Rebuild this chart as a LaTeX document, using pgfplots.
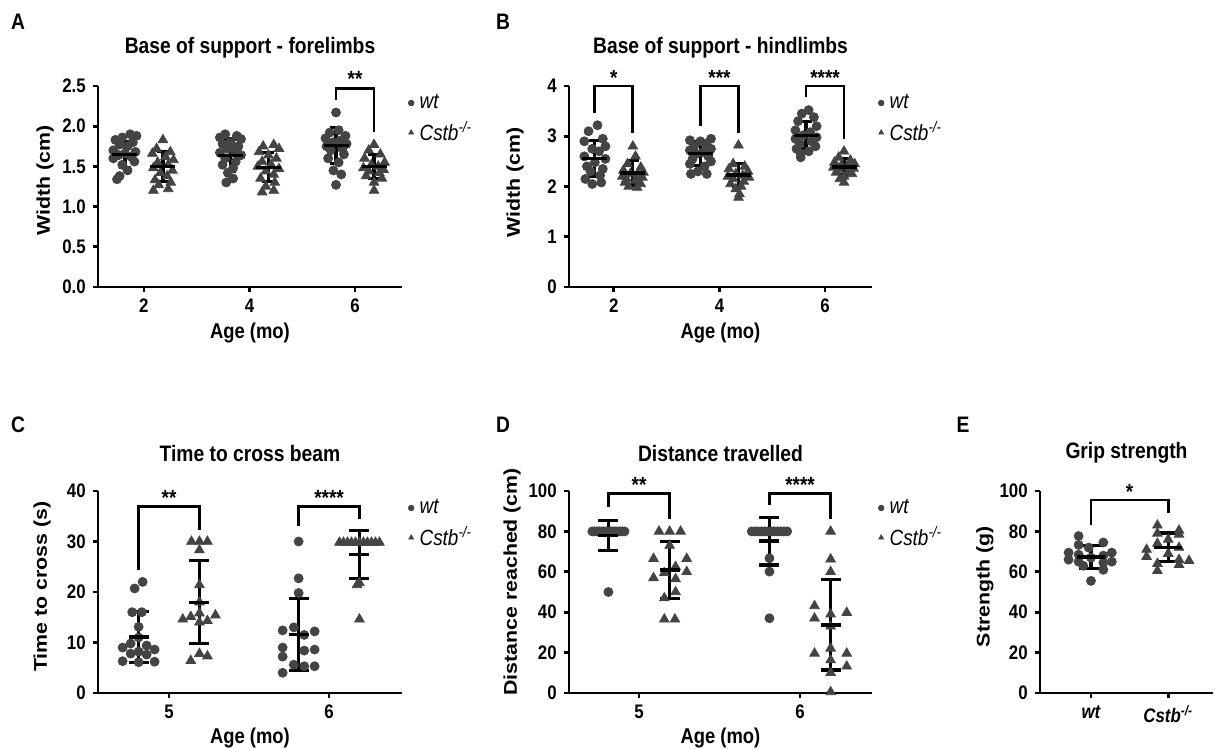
\documentclass[border=0pt]{standalone}
\usepackage{fontspec}
\setmainfont{Liberation Sans}
\newfontfamily\hf[FakeStretch=0.86]{Liberation Sans}
\newfontfamily\vf[FakeStretch=1.16]{Liberation Sans}
\usepackage{pgfplots}
\pgfplotsset{compat=1.18}
\definecolor{dot}{HTML}{444444}

\tikzset{br/.style={line width=1.4pt, black},
  ast/.style={anchor=base, font=\hf\bfseries\fontsize{11}{13}\selectfont}}
\pgfplotsset{
  gp/.style={
    scale only axis, clip=false,
    axis lines=left, axis line style={-, line width=1.4pt},
    tick align=outside, major tick length=2.6pt,
    tick style={black, line width=1.4pt},
    tick label style={font=\hf\bfseries\fontsize{9.8}{12}\selectfont, /pgf/number format/assume math mode=true},
    xlabel style={font=\hf\bfseries\fontsize{10.7}{13}\selectfont},
    ylabel style={font=\vf\bfseries\fontsize{9.2}{11}\selectfont},
    title style={font=\hf\bfseries\fontsize{11.2}{13}\selectfont, at={(0.5,1)}, anchor=center, yshift=13pt},
    xlabel style={at={(0.5,0)}, anchor=center, yshift=-23pt},
    legend style={draw=none, fill=none, font=\hf\itshape\fontsize{11}{13}\selectfont,
      at={(1,1)}, anchor=north west, row sep=1pt},
    legend cell align=left,
    legend image code/.code={\draw[##1, mark size=\lgsize] plot coordinates {(0pt,0pt)};
      \path[draw=none, fill=none] (0pt,0pt) rectangle (2.2pt,0.1pt);},
  },
  wtm/.style={only marks, mark=*, mark size=2.25pt, color=dot, mark options={draw=dot, fill=dot}},
  ckm/.style={only marks, mark=triangle*, mark size=2.75pt, color=dot, mark options={draw=dot, fill=dot}},
  sd/.style={forget plot, only marks, black, mark=-, mark size=#1, mark options={line width=1.6pt},
    error bars/y dir=both, error bars/y explicit,
    error bars/error bar style={line width=1.6pt, black}},
  cap/.style={error bars/error mark options={rotate=90, black, line width=1.6pt, mark size=#1}},
}
\newcommand\lgsize{1.4pt}

\begin{document}
\begin{tikzpicture}
\useasboundingbox (0,0) rectangle (608pt,374.5pt);

% ---------- A ----------
\begin{axis}[gp, at={(49pt,231pt)}, anchor=south west, width=152pt, height=100.5pt,
  xmin=1.13, xmax=6.89, ymin=0, ymax=2.5, xtick={2,4,6}, ytick={0,0.5,...,2.5},
  yticklabel style={/pgf/number format/.cd, fixed, fixed zerofill, precision=1},
  title={Base of support - forelimbs}, xlabel={Age (mo)}, ylabel={Width (cm)},
  ylabel style={at={(axis description cs:-0.174,0.53)}, anchor=center}]
\addplot[wtm] coordinates {
 (1.74,1.90) (1.86,1.88) (1.59,1.86) (1.46,1.83) (1.79,1.80) (1.54,1.77) (1.69,1.75) (1.42,1.70) (1.84,1.68)
 (1.64,1.66) (1.52,1.64) (1.76,1.62) (1.42,1.60) (1.82,1.56) (1.59,1.52) (1.69,1.45) (1.54,1.38) (1.49,1.34)
 (3.54,1.90) (3.76,1.88) (3.44,1.86) (3.84,1.84) (3.64,1.80) (3.49,1.78) (3.79,1.75) (3.59,1.72) (3.72,1.70)
 (3.44,1.67) (3.84,1.64) (3.54,1.60) (3.74,1.56) (3.49,1.52) (3.69,1.48) (3.59,1.42) (3.69,1.35) (3.56,1.30)
 (5.64,2.17) (5.69,1.95) (5.52,1.92) (5.82,1.88) (5.44,1.85) (5.72,1.82) (5.59,1.80) (5.84,1.78) (5.46,1.75)
 (5.76,1.72) (5.54,1.70) (5.79,1.65) (5.49,1.60) (5.69,1.55) (5.59,1.45) (5.74,1.40) (5.64,1.27)};
\addplot[ckm] coordinates {
 (2.36,1.83) (2.24,1.72) (2.50,1.68) (2.16,1.66) (2.41,1.62) (2.56,1.58) (2.26,1.55) (2.46,1.52) (2.18,1.48)
 (2.54,1.45) (2.31,1.42) (2.44,1.38) (2.21,1.33) (2.51,1.30) (2.28,1.27) (2.46,1.22) (2.18,1.20)
 (4.46,1.77) (4.26,1.75) (4.56,1.72) (4.18,1.68) (4.36,1.64) (4.51,1.60) (4.24,1.56) (4.41,1.52) (4.16,1.50)
 (4.56,1.47) (4.31,1.44) (4.46,1.40) (4.21,1.35) (4.48,1.30) (4.31,1.25) (4.46,1.20) (4.24,1.18)
 (6.36,1.77) (6.26,1.70) (6.48,1.65) (6.18,1.60) (6.56,1.55) (6.31,1.52) (6.44,1.50) (6.16,1.48) (6.54,1.46)
 (6.26,1.44) (6.46,1.42) (6.21,1.38) (6.51,1.35) (6.36,1.30) (6.36,1.20)};
\addplot[sd=6.25pt, cap=3pt] coordinates {
 (1.64,1.65) +- (0,0.16) (2.36,1.50) +- (0,0.19) (3.64,1.64) +- (0,0.20)
 (4.36,1.49) +- (0,0.18) (5.64,1.76) +- (0,0.22) (6.36,1.50) +- (0,0.15)};
\draw[br] (axis cs:5.64,2.33) -- (axis cs:5.64,2.47) -- (axis cs:6.36,2.47) -- (axis cs:6.36,1.93);
\node[ast] at (axis cs:6,2.49) {**};
\legend{wt, Cstb\textsuperscript{-/-}}
\end{axis}

% ---------- B ----------
\begin{axis}[gp, at={(284.5pt,231pt)}, anchor=south west, width=151.5pt, height=100.5pt,
  xmin=1.15, xmax=6.89, ymin=0, ymax=4, xtick={2,4,6}, ytick={0,1,...,4},
  title={Base of support - hindlimbs}, xlabel={Age (mo)}, ylabel={Width (cm)},
  ylabel style={at={(axis description cs:-0.178,0.52)}, anchor=center}]
\addplot[wtm] coordinates {
 (1.69,3.22) (1.52,3.10) (1.79,2.95) (1.44,2.90) (1.84,2.80) (1.59,2.75) (1.72,2.70) (1.44,2.60) (1.84,2.55)
 (1.64,2.48) (1.49,2.40) (1.79,2.35) (1.56,2.30) (1.74,2.22) (1.46,2.15) (1.76,2.08) (1.59,2.05)
 (3.84,2.95) (3.44,2.92) (3.64,2.90) (3.74,2.85) (3.52,2.80) (3.84,2.75) (3.44,2.72) (3.69,2.68) (3.56,2.65)
 (3.79,2.60) (3.49,2.55) (3.84,2.50) (3.44,2.45) (3.72,2.40) (3.59,2.30) (3.46,2.25) (3.76,2.25)
 (5.69,3.52) (5.56,3.45) (5.79,3.38) (5.49,3.30) (5.84,3.20) (5.44,3.12) (5.72,3.08) (5.59,3.02) (5.84,2.98)
 (5.44,2.95) (5.74,2.90) (5.52,2.85) (5.82,2.80) (5.46,2.75) (5.69,2.70) (5.54,2.65) (5.54,2.58)};
\addplot[ckm] coordinates {
 (2.36,2.80) (2.41,2.60) (2.26,2.45) (2.51,2.38) (2.18,2.32) (2.56,2.28) (2.31,2.25) (2.46,2.22) (2.16,2.20)
 (2.54,2.18) (2.24,2.15) (2.41,2.12) (2.21,2.08) (2.51,2.05) (2.28,2.00) (2.44,1.98)
 (4.36,2.82) (4.26,2.45) (4.48,2.40) (4.18,2.35) (4.54,2.30) (4.31,2.25) (4.44,2.22) (4.16,2.20) (4.56,2.18)
 (4.26,2.15) (4.46,2.10) (4.21,2.05) (4.41,2.00) (4.31,1.95) (4.38,1.85) (4.36,1.78)
 (6.36,2.70) (6.26,2.58) (6.48,2.52) (6.18,2.48) (6.56,2.45) (6.31,2.42) (6.44,2.40) (6.16,2.38) (6.54,2.36)
 (6.26,2.34) (6.46,2.30) (6.21,2.28) (6.51,2.25) (6.36,2.20) (6.28,2.15) (6.36,2.08)};
\addplot[sd=6.25pt, cap=3pt] coordinates {
 (1.64,2.56) +- (0,0.35) (2.36,2.27) +- (0,0.24) (3.64,2.65) +- (0,0.24)
 (4.36,2.23) +- (0,0.23) (5.64,3.02) +- (0,0.27) (6.36,2.39) +- (0,0.16)};
\draw[br] (axis cs:1.64,3.46) -- (axis cs:1.64,4.0) -- (axis cs:2.36,4.0) -- (axis cs:2.36,3.06);
\draw[br] (axis cs:3.64,3.20) -- (axis cs:3.64,4.0) -- (axis cs:4.36,4.0) -- (axis cs:4.36,3.07);
\draw[br] (axis cs:5.64,3.78) -- (axis cs:5.64,4.0) -- (axis cs:6.36,4.0) -- (axis cs:6.36,2.94);
\node[ast] at (axis cs:2,4.01) {*};
\node[ast] at (axis cs:4,4.01) {***};
\node[ast] at (axis cs:6,4.01) {****};
\legend{wt, Cstb\textsuperscript{-/-}}
\end{axis}

% ---------- C ----------
\begin{axis}[gp, at={(49pt,28pt)}, anchor=south west, width=152pt, height=101pt,
  xmin=4.556, xmax=6.456, ymin=0, ymax=40, xtick={5,6}, ytick={0,10,...,40},
  title={Time to cross beam}, xlabel={Age (mo)}, ylabel={Time to cross (s)},
  xlabel style={yshift=0.5pt},
  ylabel style={at={(axis description cs:-0.184,0.526)}, anchor=center}]
\addplot[wtm] coordinates {
 (4.835,22.0) (4.785,20.7) (4.77,16.0) (4.83,16.0) (4.81,13.1) (4.81,11.0) (4.76,9.8) (4.86,9.4)
 (4.71,9.0) (4.91,8.6) (4.81,8.2) (4.76,7.8) (4.86,7.6) (4.71,6.3) (4.91,6.2) (4.81,6.1)
 (5.81,30.0) (5.81,22.7) (5.81,19.8) (5.78,13.0) (5.71,12.4) (5.91,12.2) (5.845,11.5) (5.71,9.0)
 (5.91,8.6) (5.845,8.4) (5.71,7.2) (5.78,5.6) (5.845,5.3) (5.91,5.3) (5.71,4.0)};
\addplot[ckm] coordinates {
 (5.14,30.0) (5.19,30.0) (5.24,30.0) (5.19,28.3) (5.19,21.4) (5.19,18.0) (5.19,15.8) (5.29,15.4)
 (5.136,15.1) (5.086,14.6) (5.24,14.3) (5.19,14.0) (5.19,7.8) (5.24,7.3) (5.136,6.4)
 (6.065,29.8) (6.09,29.8) (6.115,29.8) (6.14,29.8) (6.165,29.8) (6.19,29.8) (6.215,29.8)
 (6.24,29.8) (6.265,29.8) (6.29,29.8) (6.315,29.8) (6.19,21.8) (6.175,21.4) (6.19,14.6)};
\addplot[sd=5pt, cap=5pt] coordinates {
 (4.81,11.1) +- (0,5.0) (5.19,18.0) +- (0,8.2) (5.81,11.6) +- (0,7.1) (6.19,27.4) +- (0,4.7)};
\draw[br] (axis cs:4.81,24.4) -- (axis cs:4.81,36.9) -- (axis cs:5.19,36.9) -- (axis cs:5.19,32.3);
\draw[br] (axis cs:5.81,33.1) -- (axis cs:5.81,36.9) -- (axis cs:6.19,36.9) -- (axis cs:6.19,34.4);
\node[ast] at (axis cs:5,37.1) {**};
\node[ast] at (axis cs:6,37.1) {****};
\legend{wt, Cstb\textsuperscript{-/-}}
\end{axis}

% ---------- D ----------
\begin{axis}[gp, at={(284.5pt,28pt)}, anchor=south west, width=151.5pt, height=101pt,
  xmin=4.565, xmax=6.447, ymin=0, ymax=100, xtick={5,6}, ytick={0,20,...,100},
  title={Distance travelled}, xlabel={Age (mo)}, ylabel={Distance reached (cm)},
  xlabel style={yshift=0.5pt},
  ylabel style={at={(axis description cs:-0.188,0.55)}, anchor=center}]
\addplot[wtm] coordinates {
 (4.71,80) (4.724,80) (4.739,80) (4.753,80) (4.767,80) (4.781,80) (4.796,80) (4.81,80)
 (4.824,80) (4.839,80) (4.853,80) (4.867,80) (4.881,80) (4.896,80) (4.91,80) (4.81,50)
 (5.70,80) (5.72,80) (5.74,80) (5.76,80) (5.78,80) (5.80,80) (5.82,80) (5.84,80)
 (5.86,80) (5.88,80) (5.90,80) (5.92,80) (5.81,66.7) (5.81,60.1) (5.81,37.0)};
\addplot[ckm] coordinates {
 (5.124,80) (5.19,80) (5.258,80) (5.19,73) (5.09,66.5) (5.296,66.5) (5.227,62.5) (5.296,60)
 (5.157,59.5) (5.09,57) (5.227,56.5) (5.227,50) (5.157,47) (5.157,36.5) (5.223,36.5)
 (6.19,80) (6.19,66.2) (6.19,60.0) (6.09,43.1) (6.29,39.8) (6.19,39) (6.09,37) (6.19,33)
 (6.19,22.1) (6.09,19.6) (6.29,19.6) (6.19,16.3) (6.29,13.2) (6.19,10) (6.19,0.5)};
\addplot[sd=5pt, cap=5pt] coordinates {
 (4.81,78.0) +- (0,7.5) (5.19,60.9) +- (0,14.0) (5.81,75.2) +- (0,11.8) (6.19,33.7) +- (0,22.3)};
\draw[br] (axis cs:4.81,91.9) -- (axis cs:4.81,98.8) -- (axis cs:5.19,98.8) -- (axis cs:5.19,86.0);
\draw[br] (axis cs:5.81,93.1) -- (axis cs:5.81,98.8) -- (axis cs:6.19,98.8) -- (axis cs:6.19,86.0);
\node[ast] at (axis cs:5,99.5) {**};
\node[ast] at (axis cs:6,99.5) {****};
\legend{wt, Cstb\textsuperscript{-/-}}
\end{axis}

% ---------- E ----------
\begin{axis}[gp, at={(520pt,28pt)}, anchor=south west, width=86.5pt, height=101pt,
  xmin=-0.66, xmax=1.58, ymin=0, ymax=100, xtick={0,1}, ytick={0,20,...,100},
  xticklabels={\itshape wt, \itshape Cstb\textsuperscript{-/-}},
  title={Grip strength}, ylabel={Strength (g)},
  ylabel style={at={(axis description cs:-0.318,0.526)}, anchor=center}]
\addplot[wtm, forget plot] coordinates {
 (-0.16,77.7) (0.16,74.5) (-0.16,73.3) (-0.03,72) (-0.29,69.5) (0.27,69.5) (-0.16,68.5) (0.16,68)
 (0,67) (-0.29,66) (-0.16,65) (0.27,65) (0.16,64.5) (-0.1,63) (0.16,61) (0,55.5)};
\addplot[ckm, forget plot] coordinates {
 (0.86,83) (1.14,80.5) (0.86,79) (1.14,78.5) (1,76) (0.86,74) (1.14,72) (0.72,71)
 (1,69) (0.72,67.5) (1.14,66) (1.27,65.5) (0.86,64) (1.14,63.5) (0.86,60.5)};
\addplot[sd=7pt, cap=6pt] coordinates {(0,67.3) +- (0,5.8) (1,72.2) +- (0,7.0)};
\draw[br] (axis cs:0,83.2) -- (axis cs:0,95.5) -- (axis cs:1,95.5) -- (axis cs:1,89.3);
\node[ast] at (axis cs:0.5,95.7) {*};
\end{axis}

\begin{scope}[every node/.style={font=\hf\bfseries\fontsize{11.2}{13}\selectfont}]
\node at (9pt,363.5pt) {A};
\node at (251.5pt,363.5pt) {B};
\node at (9pt,162pt) {C};
\node at (251.5pt,162pt) {D};
\node at (481.5pt,162pt) {E};
\end{scope}
\end{tikzpicture}
\end{document}
